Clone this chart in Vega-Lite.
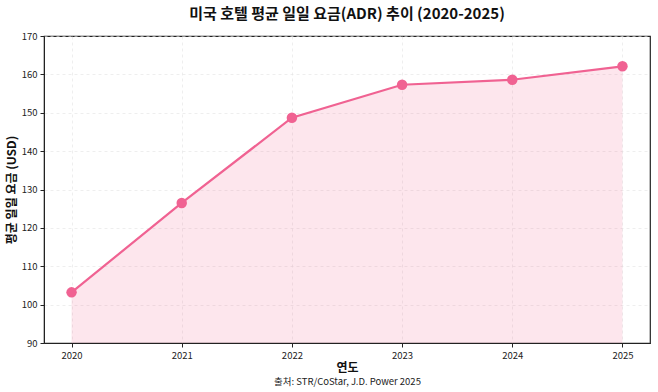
{
  "$schema": "https://vega.github.io/schema/vega-lite/v6.json",
  "width": 606,
  "height": 307,
  "autosize": {"type": "none"},
  "padding": {"left": 44, "top": 36, "right": 8, "bottom": 49},
  "background": "white",
  "config": {
    "font": "Noto Sans CJK KR",
    "view": {"stroke": "#222222", "strokeWidth": 1.2}
  },
  "title": {
    "text": "미국 호텔 평균 일일 요금(ADR) 추이 (2020-2025)",
    "font": "Noto Sans CJK KR",
    "fontSize": 15,
    "fontWeight": "bold",
    "color": "#111111",
    "anchor": "middle",
    "offset": 9
  },
  "data": {
    "values": [
      {"year": 2020, "adr": 103.2},
      {"year": 2021, "adr": 126.5},
      {"year": 2022, "adr": 148.7},
      {"year": 2023, "adr": 157.3},
      {"year": 2024, "adr": 158.6},
      {"year": 2025, "adr": 162.1}
    ]
  },
  "resolve": {"axis": {"x": "independent", "y": "independent"}},
  "layer": [
    {
      "mark": {"type": "area", "color": "#F06292", "opacity": 0.16},
      "encoding": {
        "x": {
          "field": "year", "type": "quantitative",
          "scale": {"domain": [2019.75, 2025.25], "nice": false},
          "axis": {
            "orient": "bottom",
            "title": "출처: STR/CoStar, J.D. Power 2025",
            "titleFont": "Noto Sans CJK KR",
            "titleFontSize": 9.5,
            "titleFontWeight": "normal",
            "titleColor": "#222222",
            "titlePadding": 33,
            "labels": false, "ticks": false, "domain": false, "grid": false
          }
        },
        "y": {"field": "adr", "type": "quantitative", "scale": {"domain": [90, 170], "nice": false, "zero": false}, "axis": null},
        "y2": {"datum": 90}
      }
    },
    {
      "mark": {"type": "line", "color": "#F06292", "strokeWidth": 2.2},
      "encoding": {
        "x": {
          "field": "year", "type": "quantitative",
          "scale": {"domain": [2019.75, 2025.25], "nice": false},
          "axis": {
            "orient": "bottom",
            "title": "연도",
            "titleFontSize": 12,
            "titleFontWeight": "bold",
            "titleColor": "#111111",
            "titlePadding": 3,
            "values": [2020, 2021, 2022, 2023, 2024, 2025],
            "format": "d",
            "labelFontSize": 9.5,
            "labelColor": "#222222",
            "labelPadding": 3,
            "tickColor": "#222222",
            "tickSize": 4,
            "domainColor": "#222222",
            "grid": true,
            "gridColor": "#e3e3e3",
            "gridDash": [3, 3],
            "gridOpacity": 0.6
          }
        },
        "y": {
          "field": "adr", "type": "quantitative",
          "scale": {"domain": [90, 170], "nice": false, "zero": false},
          "axis": {
            "title": "평균 일일 요금 (USD)",
            "titleFontSize": 12,
            "titleFontWeight": "bold",
            "titleColor": "#111111",
            "titlePadding": 3,
            "values": [90, 100, 110, 120, 130, 140, 150, 160, 170],
            "labelOverlap": false,
            "labelFontSize": 9.5,
            "labelColor": "#222222",
            "labelPadding": 3,
            "tickColor": "#222222",
            "tickSize": 4,
            "domainColor": "#222222",
            "grid": true,
            "gridColor": "#e3e3e3",
            "gridDash": [3, 3],
            "gridOpacity": 0.6
          }
        }
      }
    },
    {
      "mark": {"type": "point", "filled": true, "color": "#F06292", "opacity": 1, "size": 110},
      "encoding": {
        "x": {"field": "year", "type": "quantitative", "axis": null},
        "y": {"field": "adr", "type": "quantitative", "axis": null}
      }
    }
  ]
}
